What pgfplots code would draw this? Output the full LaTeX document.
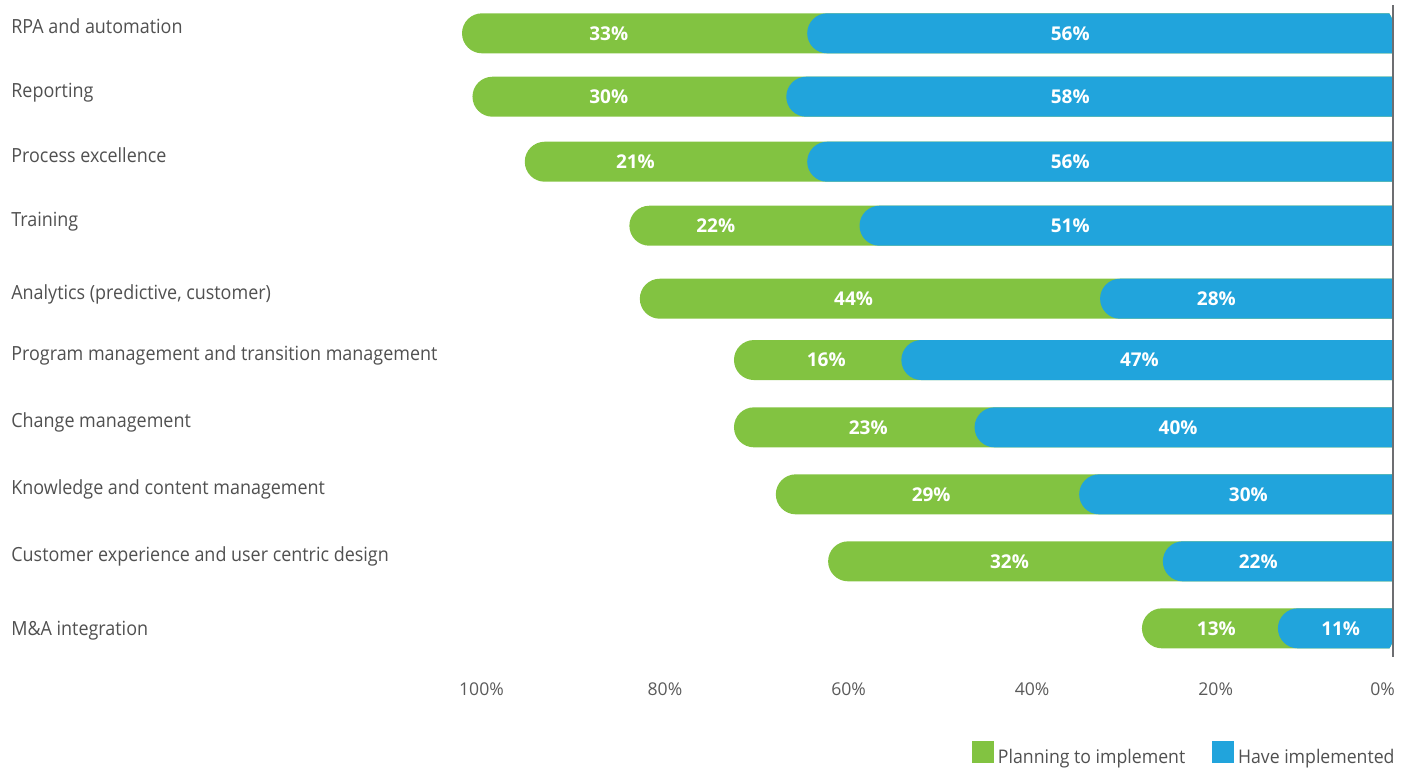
\documentclass[border=0pt]{standalone}
\usepackage{fontspec}
\setmainfont{Open Sans}
\newfontfamily\narrowfont{Open Sans}[FakeStretch=0.92]
\newfontfamily\legfont{Open Sans}[FakeStretch=0.94]
\usepackage{pgfplots}
\pgfplotsset{compat=1.18}
\definecolor{pgreen}{HTML}{82C341}
\definecolor{hblue}{HTML}{21A4DC}
\definecolor{labgray}{HTML}{505050}
\definecolor{tickgray}{HTML}{5A5A5A}
\definecolor{linegray}{HTML}{6D6E71}
% one rounded bar: colour, top y, bottom y, value (%)
\newcommand{\rbar}[4]{\addplot[forget plot, fill=#1, draw=none, rounded corners=10pt] coordinates {(-5,#2) (#4,#2) (#4,#3) (-5,#3)};}
% value label: x (%), y, text
\newcommand{\blab}[3]{\node[text=white, font=\fontsize{9.5}{11}\selectfont\bfseries, inner sep=0pt, anchor=center] at (axis cs:#1,#2) {#3};}
\begin{document}
\begin{tikzpicture}
\begin{axis}[
  scale only axis, width=691pt, height=326pt,
  xmin=0, xmax=132.12, ymin=5, ymax=657,
  x dir=reverse, y dir=reverse,
  clip mode=individual,
  axis line style={draw=none},
  major tick length=0pt,
  xtick={87.14,69.6,52.04,34.5,16.95,1.0},
  xticklabels={100\%,80\%,60\%,40\%,20\%,0\%},
  xticklabel style={anchor=base, yshift=-19pt, font=\fontsize{8.8}{10}\selectfont, text=tickgray},
  ytick={33.3,97.3,162.3,226.7,299.3,360.7,427.3,494.3,561,635},
  yticklabels={RPA and automation, Reporting, Process excellence, Training, {Analytics (predictive, customer)}, Program management and transition management, Change management, Knowledge and content management, Customer experience and user centric design, M\&A integration},
  yticklabel style={anchor=base west, inner sep=0pt, font=\narrowfont\fontsize{9.75}{12}\selectfont, text=labgray},
  legend style={at={(1,0)}, anchor=north east, yshift=-42pt, xshift=3pt, draw=none, fill=none, inner sep=0pt, legend columns=2, font=\legfont\fontsize{9.4}{11}\selectfont, text=labgray, /tikz/every even column/.append style={column sep=11.5pt}},
  legend image code/.code={\fill[#1] (0pt,-0.5ex) rectangle (10.5pt,{10.5pt-0.5ex});},
]
% Planning to implement (green, drawn to the stacked total)
\rbar{pgreen}{13.3}{53.3}{89}
\rbar{pgreen}{76.7}{116.7}{88}
\rbar{pgreen}{141.7}{181.7}{83}
\rbar{pgreen}{205.7}{245.7}{73}
\rbar{pgreen}{278.7}{318.7}{72}
\rbar{pgreen}{340}{380}{63}
\rbar{pgreen}{407.3}{447.3}{63}
\rbar{pgreen}{474.3}{514.3}{59}
\rbar{pgreen}{541.3}{581.3}{54}
\rbar{pgreen}{608.3}{648.3}{24}
% Have implemented (blue)
\rbar{hblue}{13.3}{53.3}{56}
\rbar{hblue}{76.7}{116.7}{58}
\rbar{hblue}{141.7}{181.7}{56}
\rbar{hblue}{205.7}{245.7}{51}
\rbar{hblue}{278.7}{318.7}{28}
\rbar{hblue}{340}{380}{47}
\rbar{hblue}{407.3}{447.3}{40}
\rbar{hblue}{474.3}{514.3}{30}
\rbar{hblue}{541.3}{581.3}{22}
\rbar{hblue}{608.3}{648.3}{11}
\addlegendimage{pgreen}
\addlegendentry{Planning to implement}
\addlegendimage{hblue}
\addlegendentry{Have implemented}
% labels
\blab{74.97}{33.3}{33\%}
\blab{74.97}{96.7}{30\%}
\blab{72.42}{161.7}{21\%}
\blab{64.74}{225.7}{22\%}
\blab{51.56}{298.7}{44\%}
\blab{54.18}{360}{16\%}
\blab{50.16}{427.3}{23\%}
\blab{44.15}{494.3}{29\%}
\blab{36.66}{561.3}{32\%}
\blab{16.89}{628.3}{13\%}
\blab{30.85}{33.3}{56\%}
\blab{30.85}{96.7}{58\%}
\blab{30.85}{161.7}{56\%}
\blab{30.85}{225.7}{51\%}
\blab{16.89}{298.7}{28\%}
\blab{24.24}{360}{47\%}
\blab{20.54}{427.3}{40\%}
\blab{13.83}{494.3}{30\%}
\blab{12.88}{561.3}{22\%}
\blab{5.0}{628.3}{11\%}
\draw[linegray, line width=0.8pt] (axis cs:0,5) -- (axis cs:0,657);
\coordinate (BB1) at (axis cs:133.17,0);
\coordinate (BB2) at (axis cs:-1.625,767);
\end{axis}
\path (BB1) rectangle (BB2);
\end{tikzpicture}
\end{document}
